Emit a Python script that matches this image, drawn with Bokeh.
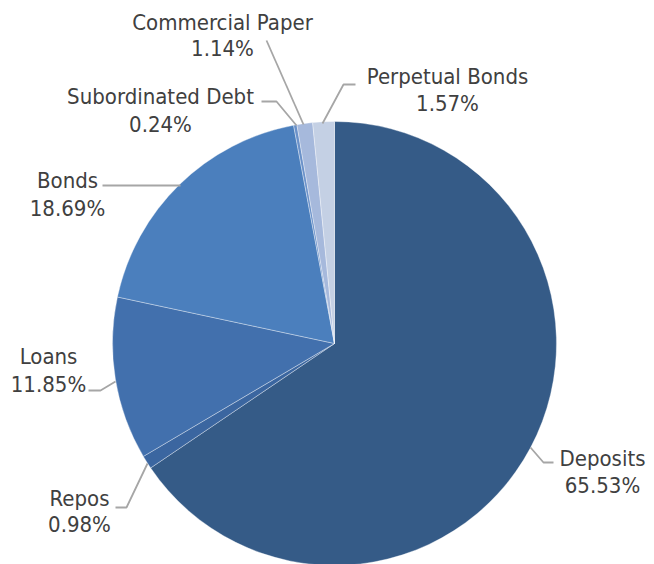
import math
from bokeh.plotting import figure
from bokeh.models import Range1d, ColumnDataSource
from bokeh.core.properties import value
from bokeh.embed import file_html
from bokeh.resources import INLINE

# ---- data ----
categories = ["Deposits", "Repos", "Loans", "Bonds", "Subordinated Debt",
              "Commercial Paper", "Perpetual Bonds"]
shares = [65.53, 0.98, 11.85, 18.69, 0.24, 1.14, 1.57]

# ---- styles ----
colors = ["#355b87", "#3b66a0", "#4270ad", "#4b7fbd", "#6a91c9",
          "#a6b9dc", "#c4d0e4"]

W, H = 654, 564
CX, CY, R = 334, 343, 222  # pixel coords (y from top)

def fy(y):
    return H - y

# label layout (pixel coords: center x, name line y, value line y)
label_pos = {
    "Deposits": (602, 458, 485),
    "Repos": (79, 498, 524),
    "Loans": (48, 356, 384),
    "Bonds": (67, 180, 208),
    "Subordinated Debt": (160, 96, 124),
    "Commercial Paper": (222, 22, 48),
    "Perpetual Bonds": (447, 76, 103),
}
leaders = {
    "Deposits": [(530, 447), (543, 462), (553, 462)],
    "Repos": [(147, 463), (126, 507), (115, 507)],
    "Loans": [(115, 381), (100, 390), (88, 390)],
    "Bonds": [(180, 185), (102, 185)],
    "Subordinated Debt": [(296, 125), (276, 101), (261, 101)],
    "Commercial Paper": [(303, 124), (266, 40)],
    "Perpetual Bonds": [(322, 123), (343, 84), (355, 84)],
}

p = figure(width=W, height=H, output_backend="svg", toolbar_location=None,
           x_range=Range1d(0, W), y_range=Range1d(0, H), min_border=0)
p.axis.visible = False
p.xgrid.visible = False
p.ygrid.visible = False
p.outline_line_color = None
p.background_fill_color = "white"
p.border_fill_color = "white"

total = sum(shares)
starts, ends = [], []
cum = 0.0
for v in shares:
    starts.append(math.pi / 2 - 2 * math.pi * cum / total)
    cum += v
    ends.append(math.pi / 2 - 2 * math.pi * cum / total)

src = ColumnDataSource(dict(start=starts, end=ends, color=colors, cat=categories))
p.wedge(x=CX, y=fy(CY), radius=R, start_angle="start", end_angle="end",
        direction="clock", fill_color="color", line_color="white",
        line_width=0.6, line_alpha=0.6, source=src)

xs, ys = [], []
for c in categories:
    pts = leaders[c]
    xs.append([pt[0] for pt in pts])
    ys.append([fy(pt[1]) for pt in pts])
p.multi_line(xs=xs, ys=ys, line_color="#a6a6a6", line_width=1.8)

tx, ty, tt = [], [], []
for c, v in zip(categories, shares):
    x, y1, y2 = label_pos[c]
    tx += [x, x]
    ty += [fy(y1), fy(y2)]
    tt += [c, f"{v:.2f}%"]
p.text(x=tx, y=ty, text=tt, text_align="center", text_baseline="middle",
       text_font=value("DejaVu Sans Condensed"), text_font_size="22px",
       text_color="#404040")

open("out.html", "w").write(file_html(p, INLINE))
